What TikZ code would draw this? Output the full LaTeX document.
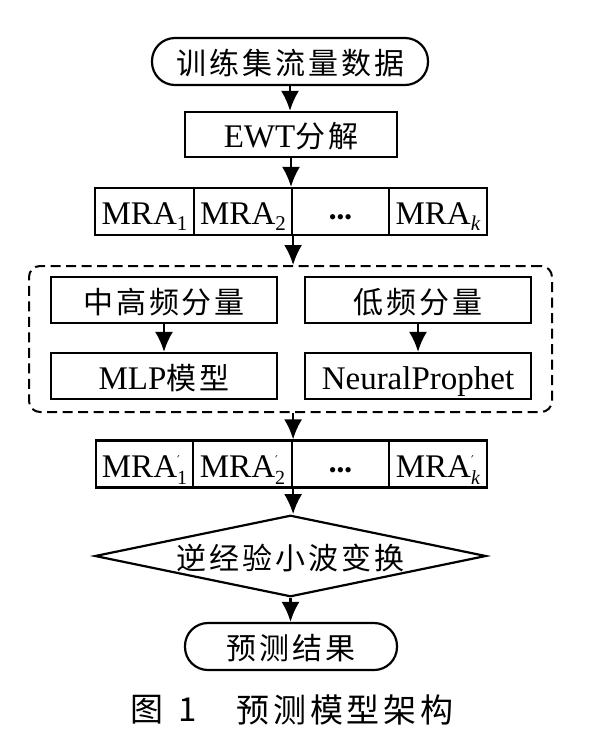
\documentclass[tikz,border=0pt]{standalone}
\usepackage{fontspec}
\setmainfont{Liberation Serif}
\newfontfamily\cjkf{Noto Sans CJK SC}[LetterSpace=10]
\newfontfamily\capf{Noto Sans CJK SC}[LetterSpace=11]
\newfontfamily\symf{DejaVu Sans}
\usetikzlibrary{arrows.meta,shapes.geometric}
\newcommand\zh[1]{{\cjkf\fontsize{30}{36}\selectfont #1}}
\newcommand\mrasub[1]{MRA\raisebox{-6pt}{\fontsize{21}{21}\selectfont #1}}
\newcommand\mrapr[1]{MRA\makebox[0pt][l]{\raisebox{13pt}{\symf\fontsize{12}{12}\selectfont ′}}\raisebox{-7pt}{\fontsize{20}{20}\selectfont #1}}
\newcommand\threedots{{\fontsize{22}{22}\selectfont •••}}
\begin{document}
\begin{tikzpicture}[x=1pt,y=-1pt,
  every node/.style={font=\fontsize{33}{40}\selectfont},
  flowbox/.style={draw, line width=2.2pt, inner sep=0pt, text height=30pt, text depth=4pt, minimum height=46pt},
  termbox/.style={flowbox, rounded corners=23pt, minimum height=47pt},
  mracell/.style={flowbox, minimum height=47pt},
  arr/.style={line width=2.2pt, -{Latex[length=20pt,width=18pt]}},
  grpbox/.style={draw, line width=2pt, dash pattern=on 10pt off 5.5pt, rounded corners=11pt, inner sep=0pt},
  captext/.style={inner sep=0pt, font=\capf\fontsize{33}{40}\selectfont}]
\useasboundingbox (0,0) rectangle (597,756);
% top
\node[termbox, minimum width=276pt] (src) at (290,61.5) {\zh{训练集流量数据}};
\node[flowbox, minimum width=212pt, minimum height=45pt] (ewt) at (291,134.5) {EWT\zh{分解}};
% MRA row
\node[mracell, minimum width=99pt] (a1) at (144.5,211.5) {\mrasub{1}};
\node[mracell, minimum width=98pt] (a2) at (243,211.5) {\mrasub{2}};
\node[mracell, minimum width=97pt] (a3) at (340.5,211.5) {\threedots};
\node[mracell, minimum width=98pt] (a4) at (438,211.5) {\mrasub{\textit{k}}};
% group
\node[grpbox, minimum width=523pt, minimum height=146pt] (grp) at (290.5,339) {};
\node[flowbox, minimum width=226pt] (hf) at (164,300) {\zh{中高频分量}};
\node[flowbox, minimum width=226pt] (lf) at (418,300) {\zh{低频分量}};
\node[flowbox, minimum width=226pt] (mlp) at (164,376) {MLP\zh{模型}};
\node[flowbox, minimum width=226pt] (np) at (418,376) {NeuralProphet};
% MRA' row
\node[mracell, minimum width=97pt] (b1) at (144.5,464) {\mrapr{1}};
\node[mracell, minimum width=99pt] (b2) at (242.5,464) {\mrapr{2}};
\node[mracell, minimum width=97pt] (b3) at (340.5,464) {\threedots};
\node[mracell, minimum width=98pt] (b4) at (438,464) {\mrapr{\textit{k}}};
% diamond
\node[draw, diamond, line width=2.2pt, inner sep=0pt, aspect=4.8, minimum width=387pt, minimum height=80pt, text height=30pt, text depth=4pt] (inv) at (290.5,556) {\zh{逆经验小波变换}};
% end
\node[termbox, minimum width=212pt] (fin) at (291,646.5) {\zh{预测结果}};
% caption
\node[captext] (cap1) at (147,710) {图};
\node[captext] (cap2) at (188,710) {1};
\node[captext] (cap3) at (345,710) {预测模型架构};
% arrows
\draw[arr] (src.south) -- (src.south |- ewt.north);
\draw[arr] (ewt.south) -- (ewt.south |- a2.north);
\draw[arr] (a2.south east) -- (a2.south east |- grp.north);
\draw[arr] (hf) -- (mlp);
\draw[arr] (lf) -- (np);
\draw[arr] (b2.north east |- grp.south) -- (b2.north east);
\draw[arr] (b2.south east) -- (b2.south east |- inv.north);
\draw[arr] (inv.south) -- (inv.south |- fin.north);
\end{tikzpicture}
\end{document}
